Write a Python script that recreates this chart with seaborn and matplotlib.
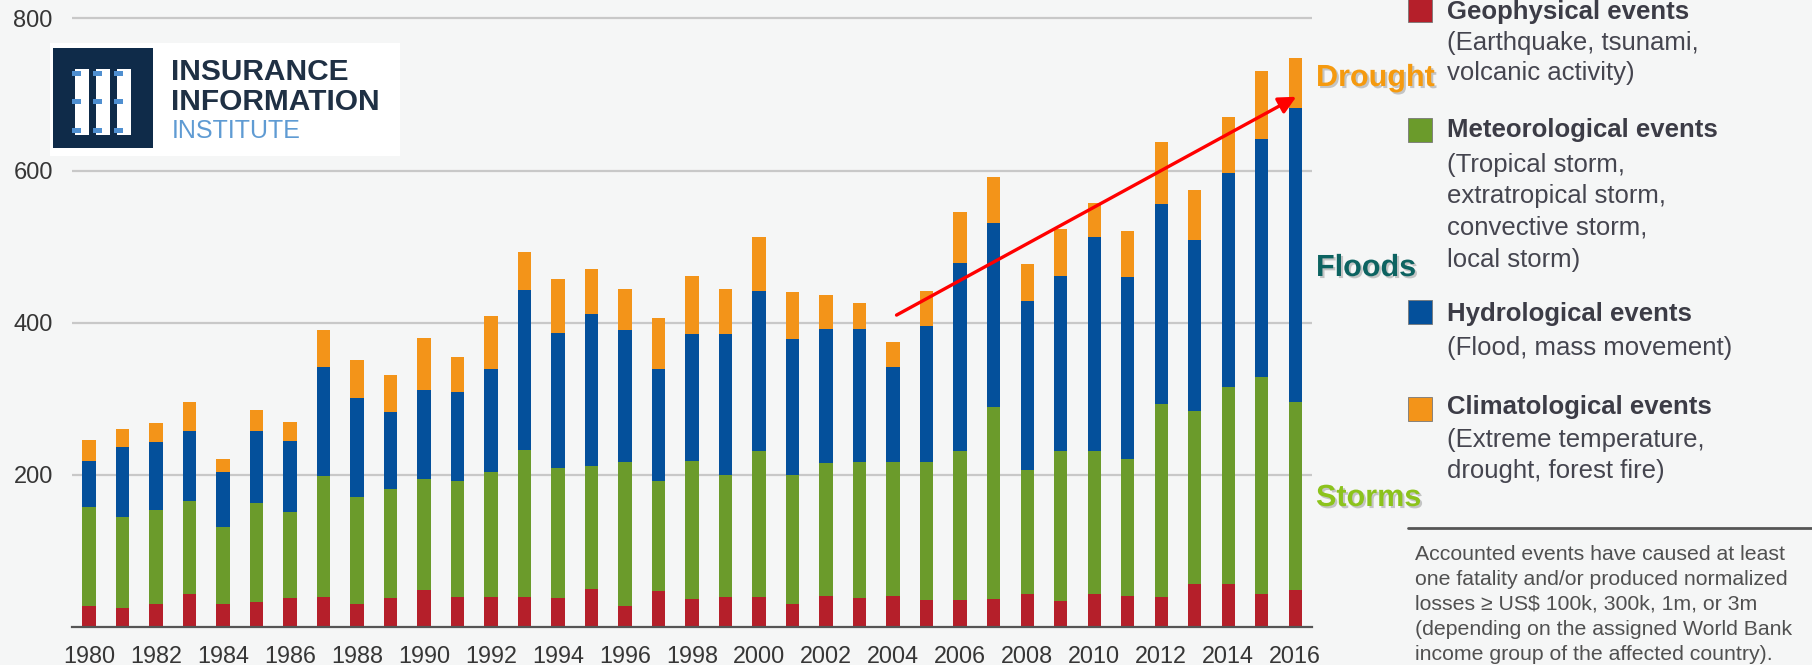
import numpy as np
import pandas as pd
import matplotlib
matplotlib.use("Agg")
import matplotlib.pyplot as plt
import matplotlib.patches as mpatches
import matplotlib.patheffects as pe
import seaborn as sns

# ---------------- data (number of loss events) ----------------
years = list(range(1980, 2017))
geophysical = [27, 25, 30, 44, 30, 33, 38, 40, 30, 38, 48, 40, 39, 39, 38, 50, 27, 47, 37,
               40, 40, 30, 41, 38, 41, 36, 36, 37, 44, 34, 44, 41, 40, 56, 56, 44, 49]
meteorological = [131, 120, 124, 122, 101, 130, 113, 158, 141, 143, 146, 152, 165, 194, 171,
                  161, 190, 145, 181, 160, 191, 170, 174, 179, 176, 181, 196, 252, 163, 198,
                  188, 180, 253, 228, 259, 285, 247]
hydrological = [60, 92, 89, 92, 73, 95, 94, 144, 130, 101, 118, 117, 135, 210, 177, 201, 173,
                147, 167, 185, 211, 178, 177, 175, 125, 179, 246, 242, 221, 230, 281, 239,
                263, 225, 282, 312, 386]
climatological = [28, 23, 25, 38, 17, 27, 24, 48, 50, 49, 68, 46, 70, 50, 71, 58, 54, 67, 76,
                  59, 71, 63, 45, 34, 33, 46, 67, 60, 49, 61, 45, 61, 82, 65, 73, 90, 66]
y_ticks = [200, 400, 600, 800]
x_labels = [str(y) for y in years[::2]]

series_names = ["Geophysical", "Meteorological", "Hydrological", "Climatological"]
bar_colors = ["#b51f2a", "#6b9b2b", "#04509b", "#f39419"]

legend_titles = ["Geophysical events", "Meteorological events",
                 "Hydrological events", "Climatological events"]
legend_details = [["(Earthquake, tsunami,", "volcanic activity)"],
                  ["(Tropical storm,", "extratropical storm,", "convective storm,", "local storm)"],
                  ["(Flood, mass movement)"],
                  ["(Extreme temperature,", "drought, forest fire)"]]
footnote = ["Accounted events have caused at least",
            "one fatality and/or produced normalized",
            "losses \u2265 US$ 100k, 300k, 1m, or 3m",
            "(depending on the assigned World Bank",
            "income group of the affected country)."]

# ---------------- style ----------------
BG = "#f5f6f6"
sns.set_style("white")
plt.rcParams["font.family"] = ["Liberation Sans", "DejaVu Sans"]

W, H = 1812, 665
fig = plt.figure(figsize=(W / 100, H / 100), dpi=100, facecolor=BG)

ax_left, ax_right = 72.3, 1312.0
y0px, y800px = 627.0, 18.4
ppu = (y0px - y800px) / 800.0
ytop = 808
ax_top_px = y0px - ytop * ppu
ax = fig.add_axes([ax_left / W, 1 - y0px / H, (ax_right - ax_left) / W, (y0px - ax_top_px) / H])
ax.set_facecolor(BG)

df = pd.DataFrame({"year": [str(y) for y in years],
                   "Geophysical": geophysical,
                   "Meteorological": meteorological,
                   "Hydrological": hydrological,
                   "Climatological": climatological})
cum = df[series_names].cumsum(axis=1)
order = [str(y) for y in years]
for name, color in reversed(list(zip(series_names, bar_colors))):
    sns.barplot(x=df["year"], y=cum[name], order=order, color=color, saturation=1,
                width=0.4, errorbar=None, linewidth=0, ax=ax)

ax.set_xlim(-0.5, len(years) - 0.5)
ax.set_ylim(0, ytop)
ax.set_xlabel("")
ax.set_ylabel("")

ax.set_yticks(y_ticks)
ax.set_yticklabels([str(v) for v in y_ticks])
ax.yaxis.grid(True, color="#c8c8c8", linewidth=1.6)
ax.set_axisbelow(True)
ax.tick_params(axis="y", length=0, pad=14, labelsize=17, labelcolor="#363636")

ax.set_xticks(range(0, len(years), 2))
ax.set_xticklabels(x_labels)
ax.set_xticks(np.arange(-0.5, len(years), 1.0), minor=True)
ax.tick_params(axis="x", which="major", length=0, pad=13, labelsize=16.8, labelcolor="#363636")
ax.tick_params(axis="x", which="minor", length=5, width=1.5, color="#555555", direction="out")

for s in ["left", "top", "right"]:
    ax.spines[s].set_visible(False)
ax.spines["bottom"].set_color("#555555")
ax.spines["bottom"].set_linewidth(1.6)

# red trend arrow
ax.annotate("", xy=(36.03, 697), xytext=(24.1, 410),
            arrowprops=dict(arrowstyle="-|>", color="#ff0000", lw=2.4,
                            mutation_scale=26, shrinkA=0, shrinkB=0),
            annotation_clip=False)


def fx(x):
    return x / W


def fy(y):
    return 1 - y / H


# ---------------- logo ----------------
fig.add_artist(mpatches.Rectangle((fx(50), fy(156)), 350 / W, 113 / H, transform=fig.transFigure,
                                  facecolor="white", edgecolor="none"))
fig.add_artist(mpatches.Rectangle((fx(53), fy(148)), 100 / W, 100 / H, transform=fig.transFigure,
                                  facecolor="#0f2b49", edgecolor="none"))
for i in range(3):
    x0 = 75 + i * 21
    fig.add_artist(mpatches.Rectangle((fx(x0), fy(135)), 14 / W, 66 / H, transform=fig.transFigure,
                                      facecolor="white", edgecolor="none"))
    for yb in (76, 104, 133):
        fig.add_artist(mpatches.Rectangle((fx(x0 - 3), fy(yb)), 9 / W, 5 / H,
                                          transform=fig.transFigure,
                                          facecolor="#4f8fd0", edgecolor="none"))
fig.text(fx(171), fy(80), "INSURANCE", fontsize=21.5, fontweight="bold", color="#1f3044",
         va="baseline", ha="left")
fig.text(fx(171), fy(110), "INFORMATION", fontsize=21.5, fontweight="bold", color="#1f3044",
         va="baseline", ha="left")
fig.text(fx(172), fy(138), "INSTITUTE", fontsize=18, color="#5f9bd3", va="baseline", ha="left")

# ---------------- side annotations ----------------
shadow = [pe.SimplePatchShadow(offset=(1.5, -1.5), shadow_rgbFace="#888888", alpha=0.45), pe.Normal()]
fig.text(fx(1316), fy(86), "Drought", fontsize=22, fontweight="bold", color="#f59a0f",
         va="baseline", ha="left", path_effects=shadow)
fig.text(fx(1316), fy(276), "Floods", fontsize=22, fontweight="bold", color="#0d6361",
         va="baseline", ha="left", path_effects=shadow)
fig.text(fx(1316), fy(506), "Storms", fontsize=22, fontweight="bold", color="#8cc31c",
         va="baseline", ha="left", path_effects=shadow)

# ---------------- legend ----------------
sq_tops = [-2, 118, 300, 397]
title_base = [19, 137, 321, 414]
detail_base = [[50, 80], [172, 203, 235, 267], [355], [447, 478]]
for k in range(4):
    fig.add_artist(mpatches.Rectangle((fx(1408), fy(sq_tops[k] + 24)), 24 / W, 24 / H,
                                      transform=fig.transFigure, facecolor=bar_colors[k],
                                      edgecolor="#777777", linewidth=0.6))
    fig.text(fx(1447), fy(title_base[k]), legend_titles[k], fontsize=18.5, fontweight="bold",
             color="#3c3c46", va="baseline", ha="left")
    for line, yb in zip(legend_details[k], detail_base[k]):
        fig.text(fx(1447), fy(yb), line, fontsize=18.5, color="#45454f", va="baseline", ha="left")

fig.add_artist(plt.Line2D([fx(1408), fx(1812)], [fy(528), fy(528)], transform=fig.transFigure,
                          color="#555555", linewidth=2))
for i, line in enumerate(footnote):
    fig.text(fx(1415), fy(560 + 25 * i), line, fontsize=15.3, color="#505050",
             va="baseline", ha="left")

fig.savefig("out.png", dpi=100, facecolor=BG)
